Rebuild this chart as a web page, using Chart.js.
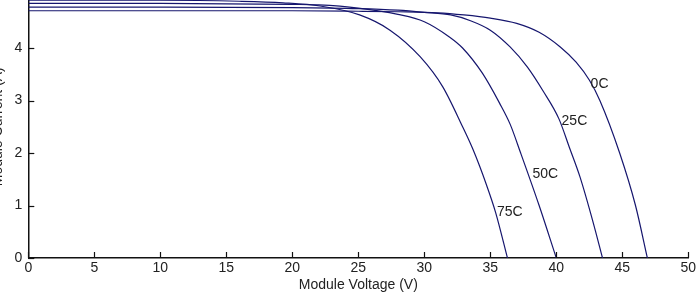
<!DOCTYPE html>
<html><head><meta charset="utf-8">
<script src="https://cdn.jsdelivr.net/npm/chart.js@4"></script>
<style>
html,body{margin:0;padding:0;width:700px;height:292px;overflow:hidden;background:#fff;}
#wrap{position:absolute;left:-14px;top:-24px;width:714px;height:320px;}
</style></head><body>
<div id="wrap"><canvas id="c" width="714" height="320"></canvas></div>
<script>
// Tick values
const xTickValues = [0,5,10,15,20,25,30,35,40,45,50];
const yTickValues = [0,1,2,3,4,5];

// Series (voltage V, current A)
const v0C  = [0,10,20,25,28,31,33,35,37,38.7,40.3,41.5,42.5,43.3,44.8,46.0,46.9];
const i0C  = [4.71,4.71,4.71,4.70,4.69,4.67,4.63,4.57,4.47,4.30,4.02,3.73,3.39,3.00,2.00,1.00,0];
const v25C = [0,10,20,25,28,30,32,33.5,35,36.5,37.8,39.0,40.2,41.0,41.8,42.8,43.5];
const i25C = [4.78,4.78,4.77,4.75,4.72,4.68,4.63,4.52,4.34,4.02,3.64,3.18,2.65,2.10,1.54,0.67,0];
const v50C = [0,10,20,22,25,28,30,31.9,32.9,34.4,35.7,36.5,37.3,38.7,40.0];
const i50C = [4.85,4.85,4.83,4.82,4.76,4.64,4.50,4.21,4.00,3.52,2.95,2.55,2.00,1.00,0];
const v75C = [0,10,16,19.3,22.1,25.1,27.4,29.7,31.4,32.9,33.7,34.7,35.4,36.3];
const i75C = [4.91,4.91,4.89,4.86,4.80,4.63,4.34,3.83,3.26,2.50,2.06,1.40,0.87,0];

// Curve labels
const labelTexts = ['0C','25C','50C','75C'];
const labelV = [42.6,40.4,38.2,35.5];
const labelI = [3.31,2.61,1.60,0.87];

const LINE = '#16166e';
const TEXT = '#222';
const FONT = "'Liberation Sans', Arial, sans-serif";

function pts(v,i){ return v.map((x,k)=>({x:x,y:i[k]})); }

const ds = [[v0C,i0C],[v25C,i25C],[v50C,i50C],[v75C,i75C]].map((s,k)=>({
  label: labelTexts[k],
  data: pts(s[0],s[1]),
  borderColor: LINE,
  borderWidth: 1.2,
  pointRadius: 0,
  fill: false,
  cubicInterpolationMode: 'monotone'
}));

const decor = {
  id:'decor',
  afterDatasetsDraw(chart){
    const ctx = chart.ctx, xs = chart.scales.x, ys = chart.scales.y;
    const L = 6;
    ctx.save();
    ctx.strokeStyle = '#111'; ctx.lineWidth = 1.2;
    xTickValues.forEach(t=>{
      const px = Math.round(xs.getPixelForValue(t))+0.5;
      ctx.beginPath(); ctx.moveTo(px, ys.bottom); ctx.lineTo(px, ys.bottom-L); ctx.stroke();
    });
    yTickValues.forEach(t=>{
      const py = Math.round(ys.getPixelForValue(t))+0.5;
      ctx.beginPath(); ctx.moveTo(xs.left, py); ctx.lineTo(xs.left+L, py); ctx.stroke();
    });
    ctx.fillStyle = TEXT;
    ctx.font = '14px ' + FONT;
    ctx.textAlign = 'left'; ctx.textBaseline = 'middle';
    labelTexts.forEach((t,k)=>{
      ctx.fillText(t, xs.getPixelForValue(labelV[k]), ys.getPixelForValue(labelI[k]));
    });
    ctx.restore();
  }
};

new Chart(document.getElementById('c'), {
  type: 'line',
  data: { datasets: ds },
  options: {
    responsive: false,
    devicePixelRatio: 1,
    animation: false,
    layout: { padding: { left: 0, right: 11.7, top: 19.5, bottom: 0 } },
    plugins: { legend: { display: false }, tooltip: { enabled: false } },
    scales: {
      x: {
        type: 'linear', min: 0, max: 50,
        afterFit: s => { s.height = 38; },
        afterBuildTicks: s => { s.ticks = xTickValues.map(v=>({value:v})); },
        grid: { display: false, drawTicks: false },
        border: { display: true, color: '#111', width: 1.5 },
        ticks: { padding: 2, color: TEXT, font: { family: FONT, size: 14 }, maxRotation: 0, autoSkip: false },
        title: { display: true, text: 'Module Voltage (V)', color: TEXT, font: { family: FONT, size: 14 }, padding: { top: 0, bottom: 2.6 } }
      },
      y: {
        type: 'linear', min: 0, max: 5,
        afterFit: s => { s.width = 42.3; },
        afterBuildTicks: s => { s.ticks = yTickValues.map(v=>({value:v})); },
        grid: { display: false, drawTicks: false },
        border: { display: true, color: '#111', width: 1.5 },
        ticks: { padding: 6, color: TEXT, font: { family: FONT, size: 14 }, autoSkip: false },
        title: { display: true, text: 'Module Current (A)', color: TEXT, font: { family: FONT, size: 14 }, padding: { top: 3.5, bottom: 0 } }
      }
    }
  },
  plugins: [decor]
});
</script>
</body></html>
